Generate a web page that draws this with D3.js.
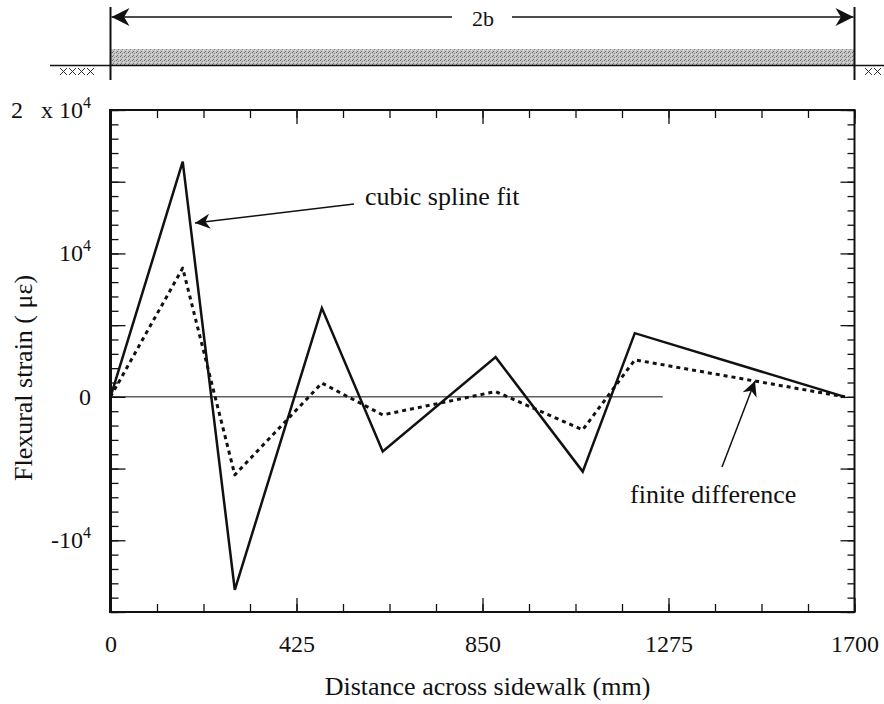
<!DOCTYPE html>
<html>
<head>
<meta charset="utf-8">
<script src="https://cdn.jsdelivr.net/npm/d3@7"></script>
<style>
  html, body { margin: 0; padding: 0; background: #fff; }
  svg text { font-family: "Liberation Serif", "Times New Roman", serif; fill: #111; }
</style>
</head>
<body>
<svg id="chart1" width="884" height="704"></svg>
<script>
// values
const distance = [0, 165, 284, 483, 622, 880, 1079, 1198, 1678];          // mm
const splineStrain = [0, 16400, -13460, 6190, -3810, 2770, -5210, 4440, 0]; // cubic spline fit
const diffStrain = [0, 8980, -5440, 960, -1260, 370, -2300, 2580, 0];       // finite difference
const zeroLineEnd = 1262;

const xMajor = [0, 425, 850, 1275, 1700];
const yLabelValues = [20000, 10000, 0, -10000];
const yLabelBase = ["2   x 10", "10", "0", "-10"];
const yLabelExp = ["4", "4", "", "4"];

let xLinear;
let yLinear;
let margin = {};
let draw;

document.addEventListener("DOMContentLoaded", (event) => {
  margin.left = 110.5;   // plot frame
  margin.right = 854.5;
  margin.top = 110;
  margin.bottom = 612;
  draw = new Draw();
  draw.render();
});

class Draw {
  createScale() {
    xLinear = d3.scaleLinear()
      .domain([0, 1700])
      .range([margin.left, margin.right]);
    yLinear = d3.scaleLinear()
      .domain([-15000, 20000])
      .range([margin.bottom, margin.top]);
  }
  render() {
    this.createScale();
    let svg = d3.select("#chart1");
    this.defs(svg);
    this.sidewalk(svg);
    this.axes(svg);
    this.lines(svg);
    this.notes(svg);
  }
  defs(svg) {
    let defs = svg.append("defs");
    let pat = defs.append("pattern")
      .attr("id", "stipple")
      .attr("patternUnits", "userSpaceOnUse")
      .attr("width", 4).attr("height", 4);
    pat.append("rect").attr("width", 4).attr("height", 4).attr("fill", "#c4c4c4");
    pat.append("rect").attr("x", 0).attr("y", 0).attr("width", 1).attr("height", 1).attr("fill", "#6e6e6e");
    pat.append("rect").attr("x", 2).attr("y", 1).attr("width", 1).attr("height", 1).attr("fill", "#8a8a8a");
    pat.append("rect").attr("x", 1).attr("y", 3).attr("width", 1).attr("height", 1).attr("fill", "#7a7a7a");
    pat.append("rect").attr("x", 3).attr("y", 2).attr("width", 1).attr("height", 1).attr("fill", "#e0e0e0");

    // barbed arrow heads
    [["bigHead", 26, 18], ["smallHead", 17, 15], ["fdHead", 19, 15]].forEach((m) => {
      defs.append("marker")
        .attr("id", m[0])
        .attr("viewBox", "0 -5 10 10")
        .attr("refX", 10).attr("refY", 0)
        .attr("markerUnits", "userSpaceOnUse")
        .attr("markerWidth", m[1]).attr("markerHeight", m[2])
        .attr("orient", "auto")
        .append("path")
          .attr("d", "M10,0 L0,-5 L3,0 L0,5 Z")
          .attr("fill", "#111");
    });
  }
  sidewalk(svg) {
    let g = svg.append("g");
    let x0 = xLinear(0), x1 = xLinear(1700);

    g.append("rect")
      .attr("x", x0).attr("y", 49)
      .attr("width", x1 - x0).attr("height", 16)
      .attr("fill", "url(#stipple)");
    g.append("line")
      .attr("x1", 50).attr("x2", 884).attr("y1", 65.5).attr("y2", 65.5)
      .attr("stroke", "#111").attr("stroke-width", 1.5);
    [x0, x1].forEach((x) => {
      g.append("line")
        .attr("x1", x).attr("x2", x).attr("y1", 7).attr("y2", 80)
        .attr("stroke", "#111").attr("stroke-width", 2);
    });

    // soil hatch, small x's
    let hatch = (a, n) => {
      let p = "";
      for (let i = 0; i < n; i++) {
        let x = a + i * 9;
        p += "M" + x + ",68L" + (x + 7) + ",75M" + x + ",75L" + (x + 7) + ",68";
      }
      g.append("path").attr("d", p).attr("fill", "none").attr("stroke", "#333").attr("stroke-width", 1);
    };
    hatch(60, 4);
    hatch(865, 2);

    // 2b dimension
    g.append("line")
      .attr("x1", 452).attr("x2", x0 + 1).attr("y1", 17).attr("y2", 17)
      .attr("stroke", "#111").attr("stroke-width", 1.5)
      .attr("marker-end", "url(#bigHead)");
    g.append("line")
      .attr("x1", 512).attr("x2", x1 - 1).attr("y1", 17).attr("y2", 17)
      .attr("stroke", "#111").attr("stroke-width", 1.5)
      .attr("marker-end", "url(#bigHead)");
    g.append("text")
      .attr("x", 483).attr("y", 26)
      .style("text-anchor", "middle")
      .style("font-size", "22px")
      .text("2b");
  }
  axes(svg) {
    let xMinor = d3.range(0, 1701, 106.25);
    let yMinor = d3.range(-15000, 20001, 1000);
    let yMajor = d3.range(-15000, 20001, 5000);

    let tickSet = [
      [d3.axisBottom, xLinear, xMinor, -8, "translate(0," + margin.bottom + ")"],
      [d3.axisBottom, xLinear, xMajor, -14, "translate(0," + margin.bottom + ")"],
      [d3.axisTop, xLinear, xMinor, -8, "translate(0," + margin.top + ")"],
      [d3.axisTop, xLinear, xMajor, -14, "translate(0," + margin.top + ")"],
      [d3.axisLeft, yLinear, yMinor, -8, "translate(" + margin.left + ",0)"],
      [d3.axisLeft, yLinear, yMajor, -15, "translate(" + margin.left + ",0)"],
      [d3.axisRight, yLinear, yMinor, -7, "translate(" + margin.right + ",0)"],
      [d3.axisRight, yLinear, yMajor, -14, "translate(" + margin.right + ",0)"]
    ];
    tickSet.forEach((t) => {
      let ax = t[0](t[1]).tickValues(t[2]).tickSize(t[3]).tickFormat("");
      let g = svg.append("g").attr("transform", t[4]).call(ax);
      g.select(".domain").remove();
      g.selectAll(".tick line").attr("stroke", "#111").attr("stroke-width", 1.3);
    });

    // frame
    svg.append("rect")
      .attr("x", margin.left).attr("y", margin.top)
      .attr("width", margin.right - margin.left)
      .attr("height", margin.bottom - margin.top)
      .attr("fill", "none").attr("stroke", "#111").attr("stroke-width", 2);
    svg.append("line")
      .attr("x1", margin.left).attr("x2", margin.left)
      .attr("y1", margin.top - 1).attr("y2", margin.bottom + 1)
      .attr("stroke", "#111").attr("stroke-width", 3);

    // x tick labels
    let xg = svg.append("g")
      .attr("transform", "translate(0," + margin.bottom + ")")
      .call(d3.axisBottom(xLinear).tickValues(xMajor).tickSize(0).tickPadding(23)
        .tickFormat(d3.format("d")));
    xg.select(".domain").remove();
    xg.selectAll("text")
      .style("font-size", "24px")
      .style("font-family", "'Liberation Serif', 'Times New Roman', serif")
      .attr("fill", "#111");

    // y tick labels with exponents
    let yl = svg.append("g").selectAll("text")
      .data(yLabelValues)
      .enter()
      .append("text")
        .attr("x", 91)
        .attr("y", (d) => yLinear(d) + 8)
        .style("text-anchor", "end")
        .style("font-size", "24px")
        .style("white-space", "pre");
    yl.append("tspan").text((d, i) => yLabelBase[i]);
    yl.append("tspan")
      .attr("dy", "-10")
      .style("font-size", "16px")
      .text((d, i) => yLabelExp[i]);

    // titles
    svg.append("text")
      .attr("x", (margin.left + margin.right) / 2 + 5)
      .attr("y", 695)
      .style("text-anchor", "middle")
      .style("font-size", "26px")
      .text("Distance across sidewalk (mm)");
    svg.append("text")
      .attr("transform", "rotate(-90)")
      .attr("x", -378)
      .attr("y", 32)
      .style("text-anchor", "middle")
      .style("font-size", "26px")
      .style("white-space", "pre")
      .text("Flexural strain ( \u03bc\u03b5)");
  }
  lines(svg) {
    let spline = distance.map((d, i) => ({ x: d, y: splineStrain[i] }));
    let diff = distance.map((d, i) => ({ x: d, y: diffStrain[i] }));

    svg.append("line")
      .attr("x1", xLinear(0)).attr("x2", xLinear(zeroLineEnd))
      .attr("y1", yLinear(0)).attr("y2", yLinear(0))
      .attr("stroke", "#111").attr("stroke-width", 1);

    svg.append("path")
      .datum(diff)
      .attr("fill", "none")
      .attr("stroke", "#111")
      .attr("stroke-width", 3)
      .attr("stroke-dasharray", "4,4")
      .attr("stroke-linejoin", "round")
      .attr("d", d3.line()
        .x((d) => xLinear(d.x))
        .y((d) => yLinear(d.y)));

    svg.append("path")
      .datum(spline)
      .attr("fill", "none")
      .attr("stroke", "#111")
      .attr("stroke-width", 2.5)
      .attr("stroke-linejoin", "miter")
      .attr("d", d3.line()
        .x((d) => xLinear(d.x))
        .y((d) => yLinear(d.y)));
  }
  notes(svg) {
    svg.append("text")
      .attr("x", 365).attr("y", 205)
      .style("font-size", "26px")
      .text("cubic spline fit");
    svg.append("line")
      .attr("x1", 354).attr("y1", 204)
      .attr("x2", 195).attr("y2", 223)
      .attr("stroke", "#111").attr("stroke-width", 1.5)
      .attr("marker-end", "url(#smallHead)");

    svg.append("text")
      .attr("x", 630).attr("y", 503)
      .style("font-size", "26px")
      .text("finite difference");
    svg.append("line")
      .attr("x1", 722).attr("y1", 467)
      .attr("x2", 755).attr("y2", 381)
      .attr("stroke", "#111").attr("stroke-width", 1.5)
      .attr("marker-end", "url(#fdHead)");
  }
}
</script>
</body>
</html>
